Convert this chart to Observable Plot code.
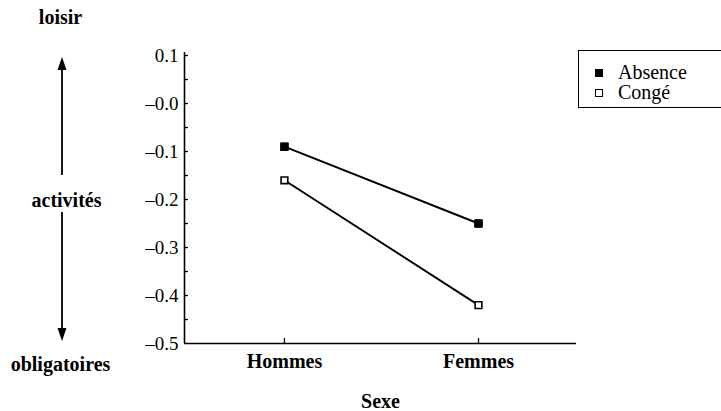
<!DOCTYPE html>
<html><head><meta charset="utf-8">
<script src="https://cdn.jsdelivr.net/npm/d3@7"></script>
<script src="https://cdn.jsdelivr.net/npm/@observablehq/plot@0.6"></script>
<style>
body{margin:0;background:#fff;overflow:hidden}
#wrap{position:relative;width:721px;height:411px;font-family:"Liberation Serif",serif;color:#000}
#legend{position:absolute;left:578px;top:50px;width:160px;height:58px;border:1.5px solid #000;box-sizing:border-box;font-size:20px;background:#fff}
.item{position:absolute;left:0;height:23px;line-height:23px;display:flex;align-items:center}
.sw{width:8px;height:8px;border:1.6px solid #000;box-sizing:border-box;margin-left:16px;margin-right:15px}
</style></head><body><div id="wrap"><div id="legend"></div></div>
<script>
const sexes = ["Hommes", "Femmes"];
const seriesNames = ["Absence", "Congé"];
const absence = [-0.09, -0.25];
const conge = [-0.16, -0.42];
const yTicks = [0.1, 0, -0.1, -0.2, -0.3, -0.4, -0.5];
const yTickLabels = ["0.1", "–0.0", "–0.1", "–0.2", "–0.3", "–0.4", "–0.5"];
const yMinorTicks = [0.1, 0.05, 0, -0.05, -0.1, -0.15, -0.2, -0.25, -0.3, -0.35, -0.4, -0.45];
const sideLabels = ["loisir", "activités", "obligatoires"];
const xTitle = "Sexe";

const rows = [];
sexes.forEach((s, i) => {
  rows.push({series: seriesNames[0], sexe: s, i, value: absence[i]});
  rows.push({series: seriesNames[1], sexe: s, i, value: conge[i]});
});

const W = 721, H = 411, mL = 184, mR = 145, mT = 55, mB = 68;
const plotW = W - mL - mR, plotH = H - mT - mB;
const xMin = -0.515, xMax = 1.505;
const sideText = (label, px, py) => Plot.text([label], {
  frameAnchor: "top-left", dx: px - mL, dy: py - mT,
  textAnchor: "middle", lineAnchor: "middle",
  fontSize: 20, fontWeight: "bold", text: d => d
});

const plot = Plot.plot({
  width: W, height: H,
  marginLeft: mL, marginRight: mR, marginTop: mT, marginBottom: mB,
  style: {fontFamily: "Liberation Serif, serif", fontSize: "19px", background: "white", color: "black", overflow: "visible"},
  x: {domain: [xMin, xMax], axis: null},
  y: {domain: [-0.5, 0.1], axis: null},
  marks: [
    Plot.ruleY([-0.5], {stroke: "black", strokeWidth: 1.6}),
    Plot.ruleX([xMin], {y1: -0.5, y2: 0.106, stroke: "black", strokeWidth: 1.6}),
    Plot.tickY(yMinorTicks, {y: d => d, insetRight: plotW - 4, stroke: "black", strokeWidth: 1.3}),
    Plot.tickX([0, 1], {x: d => d, insetTop: plotH - 5, stroke: "black", strokeWidth: 1.3}),
    Plot.axisY({ticks: yTicks, tickFormat: d => yTickLabels[yTicks.indexOf(d)], tickSize: 0, tickPadding: 6, fontSize: 19, label: null}),
    Plot.axisX({ticks: [0, 1], tickFormat: d => sexes[d], tickSize: 0, tickPadding: 10, fontSize: 20, fontWeight: "bold", label: null}),
    Plot.text([xTitle], {frameAnchor: "bottom", dy: 58, lineAnchor: "middle", fontSize: 20, fontWeight: "bold", text: d => d}),
    sideText(sideLabels[0], 60, 17),
    sideText(sideLabels[1], 66, 200),
    sideText(sideLabels[2], 60, 364),
    Plot.line(rows, {x: "i", y: "value", z: "series", stroke: "black", strokeWidth: 1.9}),
    Plot.dot(rows.filter(d => d.series === seriesNames[0]), {x: "i", y: "value", symbol: "square", r: 4.3, fill: "black", stroke: "black", strokeWidth: 1}),
    Plot.dot(rows.filter(d => d.series === seriesNames[1]), {x: "i", y: "value", symbol: "square", r: 3.8, fill: "white", stroke: "black", strokeWidth: 1.6})
  ]
});
document.getElementById("wrap").prepend(plot);

// side arrows
const svg = d3.select(plot);
const ax = 62;
const g = svg.append("g").attr("stroke", "black").attr("fill", "black");
g.append("line").attr("x1", ax).attr("x2", ax).attr("y1", 175).attr("y2", 66).attr("stroke-width", 1.8);
g.append("path").attr("d", `M${ax},57 L${ax-4.5},70 L${ax+4.5},70 Z`).attr("stroke", "none");
g.append("line").attr("x1", ax).attr("x2", ax).attr("y1", 212).attr("y2", 332).attr("stroke-width", 1.8);
g.append("path").attr("d", `M${ax},341 L${ax-4.5},328 L${ax+4.5},328 Z`).attr("stroke", "none");

// legend
const legend = document.getElementById("legend");
seriesNames.forEach((name, k) => {
  const item = document.createElement("div");
  item.className = "item";
  item.style.top = (10 + k * 20) + "px";
  const sw = document.createElement("span");
  sw.className = "sw";
  sw.style.background = k === 0 ? "black" : "white";
  item.appendChild(sw);
  const t = document.createElement("span");
  t.textContent = name;
  item.appendChild(t);
  legend.appendChild(item);
});
</script></body></html>
